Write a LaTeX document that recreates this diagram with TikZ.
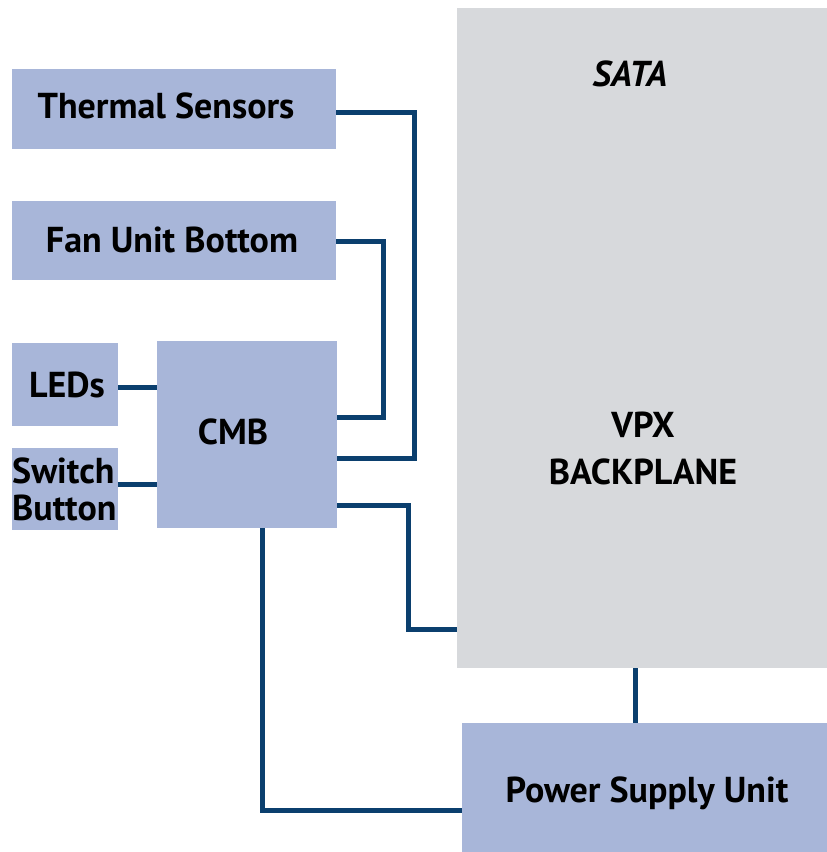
\documentclass[tikz,border=0pt]{standalone}
\usepackage{fontspec}
\setmainfont{PT Sans}
\begin{document}
\begin{tikzpicture}[x=1pt,y=-1pt,
  box/.style={fill=boxblue,draw=none,inner sep=0pt},
  bpbox/.style={fill=bpgray,draw=none,inner sep=0pt},
  lbl/.style={font=\fontsize{36}{40}\selectfont\bfseries,text=black,inner sep=0pt},
  conn/.style={draw=lineblue,line width=5pt}]
\definecolor{boxblue}{HTML}{A8B6D9}
\definecolor{bpgray}{HTML}{D7D9DC}
\definecolor{lineblue}{HTML}{0B3F6E}
\useasboundingbox (0,0) rectangle (827,852);
\node[bpbox,minimum width=370pt,minimum height=660pt] (bp) at (642,338) {};
\node[box,minimum width=324pt,minimum height=80pt] (th) at (174,109) {};
\node[box,minimum width=324pt,minimum height=79pt] (fan) at (174,240.5) {};
\node[box,minimum width=106pt,minimum height=83pt] (leds) at (65,384.5) {};
\node[box,minimum width=106pt,minimum height=82pt] (sw) at (65,489) {};
\node[box,minimum width=180pt,minimum height=187pt] (cmb) at (247,434.5) {};
\node[box,minimum width=365pt,minimum height=129pt] (psu) at (644.5,787.5) {};
\node[lbl] (tht) at (166,106) {Thermal Sensors};
\node[lbl] (fant) at (172,240) {Fan Unit Bottom};
\node[lbl] (ledt) at (67,385) {LEDs};
\node[lbl,align=left,anchor=west] (swt) at (12,489) {Switch\\[-3pt]Button};
\node[lbl] (cmbt) at (233,432) {CMB};
\node[lbl,font=\fontsize{36}{40}\selectfont\bfseries\itshape] (satat) at (630,74) {SATA};
\node[lbl,align=center] (bpt) at (643,448) {VPX\\[7pt]BACKPLANE};
\node[lbl] (psut) at (647,793) {Power Supply Unit};
\draw[conn] ([yshift=-3pt]th.east) -- ++(78,0) |- ([yshift=-23.5pt]cmb.east);
\draw[conn] ([yshift=-0.5pt]fan.east) -- ++(47,0) |- ([yshift=17pt]cmb.east);
\draw[conn] ([yshift=-2.5pt]leds.east) -- ([yshift=-2.5pt]cmb.west |- leds.east);
\draw[conn] ([yshift=5pt]sw.east) -- ([yshift=5pt]cmb.west |- sw.east);
\draw[conn] ([yshift=-70.5pt]cmb.east) -- ++(71,0) |- ([yshift=-291pt]bp.west);
\draw[conn] ([xshift=15pt]cmb.south) |- ([yshift=-22.5pt]psu.west);
\draw[conn] ([xshift=-7pt]bp.south) -- ([xshift=-7pt]bp.south |- psu.north);
\end{tikzpicture}
\end{document}
